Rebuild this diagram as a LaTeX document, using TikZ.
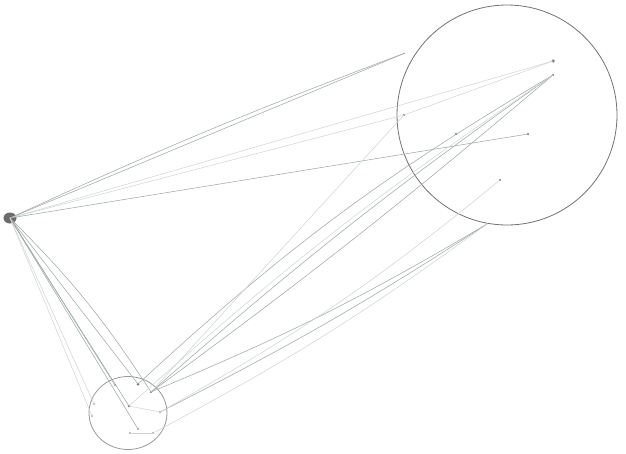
\documentclass[tikz,border=0pt]{standalone}
\usetikzlibrary{shapes.geometric}
\begin{document}
\begin{tikzpicture}[x=1pt,y=-1pt,
  pt/.style={circle,fill=black!55,inner sep=0pt,minimum size=2.2pt},
  ring/.style={draw=black!55,line width=0.8pt},
  ln/.style={draw={rgb,255:red,160;green,170;blue,170},line width=0.55pt},
  fl/.style={draw={rgb,255:red,205;green,212;blue,212},line width=0.5pt}]
\useasboundingbox (0,0) rectangle (626,453);
\fill[white] (0,0) rectangle (626,453);
% hubs
\node[ellipse,fill=black!58,inner sep=0pt,minimum width=13pt,minimum height=11pt] (L) at (10,218) {};
\node[ring,circle,minimum size=220pt,inner sep=0pt] (BC) at (507,115) {};
\node[ring,draw=black!40,ellipse,minimum width=78pt,minimum height=73pt,inner sep=0pt] (SC) at (128,413) {};
% points in big circle
\node[pt,minimum size=3.5pt] (B1) at (553,61) {};
\node[pt] (B2) at (553,75) {};
\node[pt] (B3) at (404,115) {};
\node[pt] (B4) at (456,134) {};
\node[pt] (B5) at (528,134) {};
\node[pt] (B6) at (500,180) {};
\coordinate (T1) at (405,53);
\coordinate (T2) at (487,224);
% points in small circle
\node[pt,fill=black!40] (S0) at (115,385) {};
\node[pt,minimum size=3pt] (S1) at (138,384) {};
\node[pt] (S2) at (151,392) {};
\node[pt,minimum size=2.8pt] (S3) at (129,406) {};
\node[pt,fill=black!30] (S4) at (94,404) {};
\node[pt,fill=black!35] (S5) at (160,412) {};
\node[pt,fill=black!30] (S6) at (92,416) {};
\node[pt,fill=black!35] (S7) at (138,429) {};
\node[pt,fill=black!35] (S8) at (130,433) {};
\node[pt,fill=black!35] (S9) at (153,433) {};
% left hub to big circle
\draw[ln] (L.center) -- (T1);
\draw[ln] (L.center) to[bend left=2] (T1);
\draw[fl] (L.center) -- (B1.center);
\draw[fl] (L.center) -- (B3.center);
\draw[ln] (L.center) -- (B5.center);
% left hub to small circle
\draw[ln] (L.center) -- (S0.center);
\draw[ln] (L.center) -- (S1.center);
\draw[ln] (L.center) -- (S3.center);
\draw[ln] (L.center) -- (S7.center);
\draw[ln] (L.center) to[bend left=6] (S2.center);
\draw[fl] (L.center) -- (S4.center);
\draw[fl] (L.center) -- (S6.center);
% small circle to big circle
\draw[ln] (S1.center) to[bend left=6] (B2.center);
\draw[ln] (S2.center) to[bend left=3] (B2.center);
\draw[ln] (S2.center) to[bend right=2] (B2.center);
\draw[fl] (S3.center) to[bend left=4] (B2.center);
\draw[fl] (S2.center) -- (B3.center);
\draw[ln] (S2.center) to[bend right=4] (T2);
\draw[ln] (S5.center) to[bend right=3] (T2);
\draw[fl] (S9.center) to[bend right=4] (T2);
\draw[fl] (S5.center) to[bend right=5] (B6.center);
% inside big circle
\draw[fl] (B3.center) -- (B1.center);
% inside small circle
\draw[fl] (S3.center) -- (S5.center);
\draw[fl] (S8.center) -- (S9.center);
\end{tikzpicture}
\end{document}
